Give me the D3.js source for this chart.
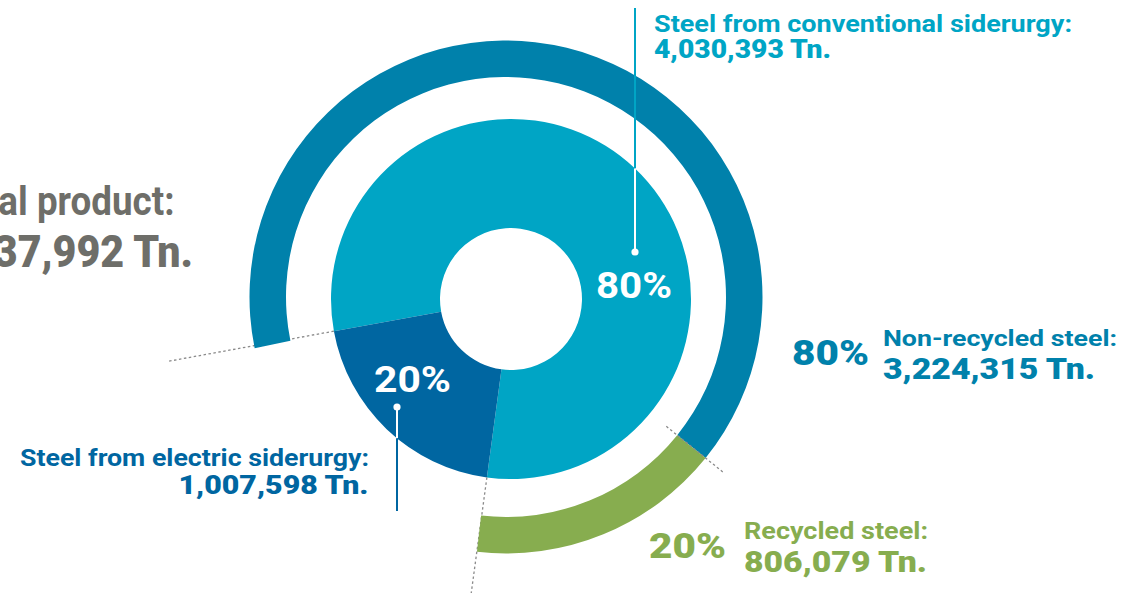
<!DOCTYPE html>
<html>
<head>
<meta charset="utf-8">
<script src="https://cdn.jsdelivr.net/npm/d3@7"></script>
<style>
  html, body { margin: 0; padding: 0; background: #ffffff; overflow: hidden; }
  svg { display: block; font-family: Roboto, "Noto Sans", sans-serif; }
</style>
</head>
<body>
<svg id="chart" width="1131" height="593"></svg>
<script>
// Steel production by origin (tonnes)
const sourceNames = ["Steel from conventional siderurgy", "Steel from electric siderurgy"];
const sourceTonnes = [4030393, 1007598];
const sourceColors = ["#00a5c5", "#0066a1"];

// Conventional steel split by recycling (tonnes)
const recycleNames = ["Non-recycled steel", "Recycled steel"];
const recycleTonnes = [3224315, 806079];
const recycleColors = ["#0081ab", "#87ad4f"];

const totalLabel = "Total product:";
const totalTonnesText = "5,037,992";

const fmt = d3.format(",");
const pct = (v, t) => Math.round(v / t * 100) + "%";
const deg = Math.PI / 180;

const svg = d3.select("#chart");

// geometry
const inner = { cx: 511, cy: 299, r0: 71, r1: 180 };
const outer = { cx: 506, cy: 297, r0: 220, r1: 256.5 };
const startDeg = -100.3;
const outerTurn = -1.2 * deg;

const sourcePie = d3.pie().sort(null)
  .startAngle(startDeg * deg).endAngle((startDeg + 360) * deg);
const sourceArcs = sourcePie(sourceTonnes);
const conv = sourceArcs[0];

// outer ring covers the conventional slice only
const recyclePie = d3.pie().sort(null)
  .startAngle(conv.startAngle + outerTurn).endAngle(conv.endAngle + outerTurn);
const recycleArcs = recyclePie(recycleTonnes);

const innerArc = d3.arc().innerRadius(inner.r0).outerRadius(inner.r1);
const outerArc = d3.arc().innerRadius(outer.r0).outerRadius(outer.r1);

const gIn = svg.append("g").attr("transform", `translate(${inner.cx},${inner.cy})`);
const gOut = svg.append("g").attr("transform", `translate(${outer.cx},${outer.cy})`);

gOut.selectAll("path").data(recycleArcs).join("path")
  .attr("d", outerArc).attr("fill", (d, i) => recycleColors[i]);

gIn.selectAll("path").data(sourceArcs).join("path")
  .attr("d", innerArc).attr("fill", (d, i) => sourceColors[i]);

// dotted guide lines along slice boundaries
function radial(g, a, rA, rB) {
  g.append("line")
    .attr("x1", rA * Math.sin(a)).attr("y1", -rA * Math.cos(a))
    .attr("x2", rB * Math.sin(a)).attr("y2", -rB * Math.cos(a))
    .attr("stroke", "#8a8a8a").attr("stroke-width", 1.3)
    .attr("stroke-dasharray", "2.5,2.5");
}
radial(gIn, sourceArcs[1].endAngle, inner.r1, 348);
radial(gIn, sourceArcs[1].startAngle, inner.r1, 320);
radial(gOut, recycleArcs[1].startAngle, 206, 280);

// vertical leader line: coloured outside the donut, white inside it
function vline(x, y1, y2, color) {
  svg.append("line").attr("x1", x).attr("x2", x).attr("y1", y1).attr("y2", y2)
    .attr("stroke", color).attr("stroke-width", 2);
}
function leader(x, yEnd, yDot, outsideColor) {
  const dx = x - inner.cx;
  const half = Math.sqrt(inner.r1 * inner.r1 - dx * dx);
  if (yEnd < yDot) {
    const edge = inner.cy - half;
    vline(x, yEnd, edge, outsideColor);
    vline(x, edge, yDot, "#fff");
  } else {
    const edge = inner.cy + half;
    vline(x, yDot, edge, "#fff");
    vline(x, edge, yEnd, outsideColor);
  }
  svg.append("circle").attr("cx", x).attr("cy", yDot).attr("r", 3.6).attr("fill", "#fff");
}
leader(635, 8, 252, sourceColors[0]);
leader(397, 511, 407, sourceColors[1]);

// text helper
function label(x, y, text, size, weight, color, width, anchor) {
  const t = svg.append("text")
    .attr("x", x).attr("y", y)
    .attr("font-size", size).attr("font-weight", weight)
    .attr("fill", color)
    .attr("text-anchor", anchor || "start")
    .text(text);
  if (width) t.attr("textLength", width).attr("lengthAdjust", "spacingAndGlyphs");
  return t;
}

const sourceTotal = d3.sum(sourceTonnes);
const recycleTotal = d3.sum(recycleTonnes);

// percentages inside the inner donut
label(634, 298, pct(sourceTonnes[0], sourceTotal), 37, 700, "#fff", 76, "middle");
label(412.5, 392, pct(sourceTonnes[1], sourceTotal), 37, 700, "#fff", 77, "middle");

// conventional siderurgy
label(654, 31.5, sourceNames[0] + ":", 24, 700, sourceColors[0], 418);
label(654, 57.5, fmt(sourceTonnes[0]) + " Tn.", 25, 900, sourceColors[0], 177);

// electric siderurgy
label(369, 466, sourceNames[1] + ":", 24, 700, sourceColors[1], 349, "end");
label(368.5, 494, fmt(sourceTonnes[1]) + " Tn.", 26, 900, sourceColors[1], 190, "end");

// non-recycled
label(792, 365, pct(recycleTonnes[0], recycleTotal), 35, 900, recycleColors[0], 77);
label(883, 346, recycleNames[0] + ":", 22, 700, recycleColors[0], 234);
label(883, 378.5, fmt(recycleTonnes[0]) + " Tn.", 29, 900, recycleColors[0], 212);

// recycled
label(649, 557.5, pct(recycleTonnes[1], recycleTotal), 35, 900, recycleColors[1], 77);
label(744, 538.5, recycleNames[1] + ":", 24, 700, recycleColors[1], 184);
label(744, 571.5, fmt(recycleTonnes[1]) + " Tn.", 30, 900, recycleColors[1], 183);

// total product
label(174.5, 215, totalLabel, 40, 700, "#6e6e69", 229, "end");
label(193, 266.5, totalTonnesText + " Tn.", 44, 900, "#6e6e69", 258, "end");
</script>
</body>
</html>
